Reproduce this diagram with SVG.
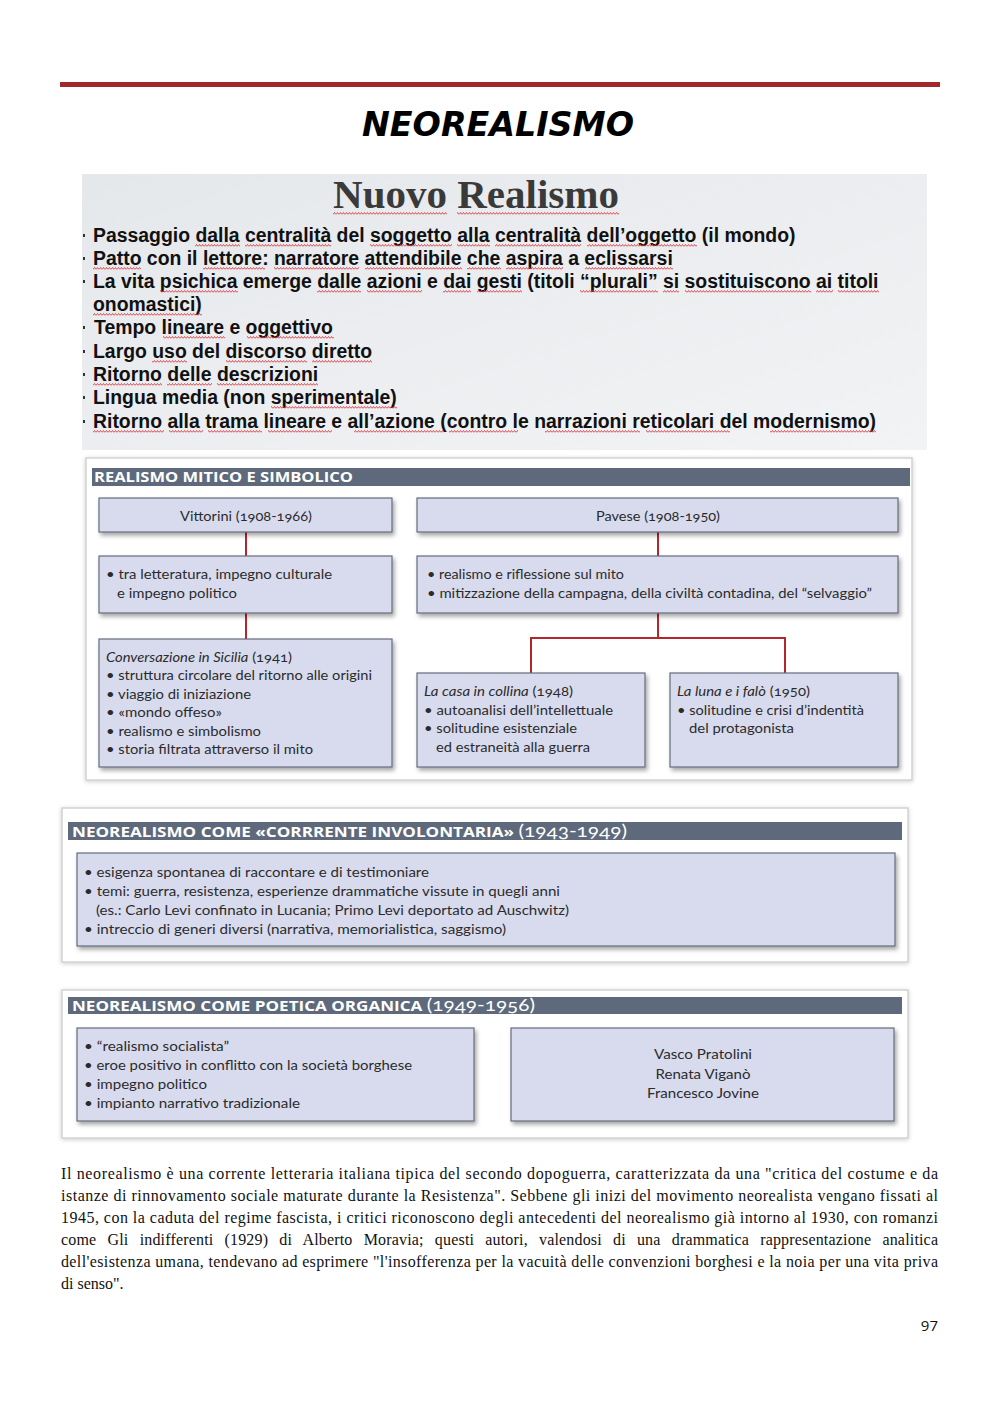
<svg xmlns="http://www.w3.org/2000/svg" width="1000" height="1413" viewBox="0 0 1000 1413">
<defs>
<style>
.t{font-family:Lato,"Open Sans",sans-serif;font-size:14px;fill:#2b2b2b;font-variant-numeric:oldstyle-nums}
.i{font-style:italic}
.box{fill:#d8dbee;stroke:#656c7c;stroke-width:1.2}
.bar{fill:#5e6a7b}
.hd{font-family:"Open Sans",Lato,sans-serif;font-weight:700;font-size:14px;fill:#fff}
.yr{font-family:Lato,sans-serif;font-weight:400;font-size:17px;font-variant-numeric:oldstyle-nums}
.nr{font-family:"Liberation Sans",Arial,sans-serif;font-weight:700;font-size:19.4px;fill:#111}
.sq rect{fill:url(#sq)}
.con{stroke:#b3262c;stroke-width:2;fill:none}
.p{font-family:"Liberation Serif","Times New Roman",serif;font-size:16px;fill:#111}
.panel{fill:#fff;stroke:#d2d2d2;stroke-width:1.5}
</style>
<pattern id="sq" patternUnits="userSpaceOnUse" width="3" height="3"><path d="M0,2.5 L1.5,0.5 L3,2.5" fill="none" stroke="#e0393e" stroke-width="0.9"/></pattern>
<filter id="sh" x="-5%" y="-10%" width="115%" height="135%"><feDropShadow dx="2" dy="3" stdDeviation="2" flood-color="#000" flood-opacity="0.35"/></filter>
<filter id="psh" x="-2%" y="-4%" width="104%" height="110%"><feDropShadow dx="0" dy="1" stdDeviation="2" flood-color="#000" flood-opacity="0.2"/></filter>
<linearGradient id="bg" x1="0" x2="1" y1="0" y2="1"><stop offset="0" stop-color="#e5e8eb"/><stop offset="1" stop-color="#f2f3f5"/></linearGradient>
<marker id="ah" markerUnits="userSpaceOnUse" markerWidth="12" markerHeight="10" refX="11" refY="5" orient="auto"><path d="M0,0 L12,5 L0,10 z" fill="#b3262c"/></marker>
</defs>

<rect x="0" y="0" width="1000" height="1413" fill="#fff"/>

<g id="header">
<rect x="60" y="82" width="880" height="5" fill="#a3282b"/>
<text x="498" y="136" text-anchor="middle" textLength="272" lengthAdjust="spacingAndGlyphs" style="font-family:'DejaVu Sans',sans-serif;font-weight:700;font-style:italic;font-size:33px;fill:#000">NEOREALISMO</text>
</g>

<g id="nuovo-realismo">
<rect x="82" y="174" width="845" height="276" fill="url(#bg)"/>
<text x="476" y="208" text-anchor="middle" style="font-family:'Liberation Serif','Times New Roman',serif;font-weight:700;font-size:41px;fill:#3a3a3a">Nuovo Realismo</text>
<g fill="#333">
<rect x="83" y="234" width="2" height="3"/><rect x="83" y="257" width="2" height="3"/><rect x="83" y="280" width="2" height="3"/>
<rect x="83" y="326" width="2" height="3"/><rect x="83" y="350" width="2" height="3"/><rect x="83" y="373" width="2" height="3"/>
<rect x="83" y="396" width="2" height="3"/><rect x="83" y="420" width="2" height="3"/>
</g>
<text class="nr" x="93" y="242">Passaggio dalla centralità del soggetto alla centralità dell’oggetto (il mondo)</text>
<text class="nr" x="93" y="265">Patto con il lettore: narratore attendibile che aspira a eclissarsi</text>
<text class="nr" x="93" y="288">La vita psichica emerge dalle azioni e dai gesti (titoli “plurali” si sostituiscono ai titoli</text>
<text class="nr" x="93" y="311">onomastici)</text>
<text class="nr" x="94" y="334">Tempo lineare e oggettivo</text>
<text class="nr" x="93" y="358">Largo uso del discorso diretto</text>
<text class="nr" x="93" y="381">Ritorno delle descrizioni</text>
<text class="nr" x="93" y="404">Lingua media (non sperimentale)</text>
<text class="nr" x="93" y="428" textLength="783">Ritorno alla trama lineare e all’azione (contro le narrazioni reticolari del modernismo)</text>
<g class="sq">
<g transform="translate(0,212)"><rect x="333" y="0" width="114" height="3"/><rect x="457" y="0" width="162" height="3"/></g>
<g transform="translate(0,244)"><rect x="195" y="0" width="45" height="3"/><rect x="245" y="0" width="86" height="3"/><rect x="370" y="0" width="82" height="3"/><rect x="457" y="0" width="33" height="3"/><rect x="495" y="0" width="86" height="3"/><rect x="587" y="0" width="110" height="3"/></g>
<g transform="translate(0,267)"><rect x="93" y="0" width="48" height="3"/><rect x="203" y="0" width="62" height="3"/><rect x="274" y="0" width="85" height="3"/><rect x="365" y="0" width="97" height="3"/><rect x="467" y="0" width="34" height="3"/><rect x="506" y="0" width="57" height="3"/><rect x="585" y="0" width="88" height="3"/></g>
<g transform="translate(0,290)"><rect x="160" y="0" width="78" height="3"/><rect x="317" y="0" width="44" height="3"/><rect x="367" y="0" width="55" height="3"/><rect x="443" y="0" width="28" height="3"/><rect x="477" y="0" width="45" height="3"/><rect x="580" y="0" width="78" height="3"/><rect x="663" y="0" width="16" height="3"/><rect x="685" y="0" width="126" height="3"/><rect x="816" y="0" width="17" height="3"/><rect x="838" y="0" width="41" height="3"/></g>
<g transform="translate(0,313)"><rect x="93" y="0" width="109" height="3"/></g>
<g transform="translate(0,336)"><rect x="163" y="0" width="62" height="3"/><rect x="247" y="0" width="87" height="3"/></g>
<g transform="translate(0,360)"><rect x="152" y="0" width="35" height="3"/><rect x="226" y="0" width="81" height="3"/><rect x="312" y="0" width="60" height="3"/></g>
<g transform="translate(0,383)"><rect x="93" y="0" width="69" height="3"/><rect x="167" y="0" width="45" height="3"/><rect x="217" y="0" width="101" height="3"/></g>
<g transform="translate(0,406)"><rect x="271" y="0" width="126" height="3"/></g>
<g transform="translate(0,430)"><rect x="93" y="0" width="71" height="3"/><rect x="169" y="0" width="34" height="3"/><rect x="208" y="0" width="54" height="3"/><rect x="268" y="0" width="64" height="3"/><rect x="354" y="0" width="90" height="3"/><rect x="449" y="0" width="69" height="3"/><rect x="545" y="0" width="95" height="3"/><rect x="646" y="0" width="84" height="3"/><rect x="770" y="0" width="106" height="3"/></g>
</g>
</g>

<g id="panel-realismo">
<rect class="panel" x="86" y="458" width="826" height="322" filter="url(#psh)"/>
<rect class="bar" x="92" y="468" width="818" height="18"/>
<text class="hd" x="94" y="482" textLength="259" lengthAdjust="spacingAndGlyphs">REALISMO MITICO E SIMBOLICO</text>
</g>

<g id="connectors">
<path class="con" d="M246,532 V556 M246,613 V639"/>
<path class="con" d="M658,532 V556 M658,613 V638 M531,638 H785 M531,637 V673 M785,637 V673"/>
<path class="con" d="M474,1075 H510" marker-end="url(#ah)"/>
</g>

<g id="vittorini">
<rect class="box" x="99" y="498" width="293" height="34" filter="url(#sh)"/>
<text class="t" x="246" y="521" text-anchor="middle" textLength="132" lengthAdjust="spacingAndGlyphs">Vittorini (1908-1966)</text>
</g>
<g id="vittorini-impegno">
<rect class="box" x="99" y="556" width="293" height="57" filter="url(#sh)"/>
<text class="t" x="106" y="579" textLength="226" lengthAdjust="spacingAndGlyphs">• tra letteratura, impegno culturale</text>
<text class="t" x="117" y="598" textLength="120" lengthAdjust="spacingAndGlyphs">e impegno politico</text>
</g>
<g id="conversazione">
<rect class="box" x="99" y="639" width="293" height="128" filter="url(#sh)"/>
<text class="t" x="106" y="662" textLength="186" lengthAdjust="spacingAndGlyphs"><tspan class="i">Conversazione in Sicilia</tspan> (1941)</text>
<text class="t" x="106" y="680" textLength="266" lengthAdjust="spacingAndGlyphs">• struttura circolare del ritorno alle origini</text>
<text class="t" x="106" y="699" textLength="145" lengthAdjust="spacingAndGlyphs">• viaggio di iniziazione</text>
<text class="t" x="106" y="717" textLength="116" lengthAdjust="spacingAndGlyphs">• «mondo offeso»</text>
<text class="t" x="106" y="736" textLength="155" lengthAdjust="spacingAndGlyphs">• realismo e simbolismo</text>
<text class="t" x="106" y="754" textLength="207" lengthAdjust="spacingAndGlyphs">• storia filtrata attraverso il mito</text>
</g>
<g id="pavese">
<rect class="box" x="417" y="498" width="481" height="34" filter="url(#sh)"/>
<text class="t" x="658" y="521" text-anchor="middle" textLength="124" lengthAdjust="spacingAndGlyphs">Pavese (1908-1950)</text>
</g>
<g id="pavese-mito">
<rect class="box" x="417" y="556" width="481" height="57" filter="url(#sh)"/>
<text class="t" x="427" y="579" textLength="197" lengthAdjust="spacingAndGlyphs">• realismo e riflessione sul mito</text>
<text class="t" x="427" y="598" textLength="445" lengthAdjust="spacingAndGlyphs">• mitizzazione della campagna, della civiltà contadina, del “selvaggio”</text>
</g>
<g id="casa-collina">
<rect class="box" x="417" y="673" width="228" height="94" filter="url(#sh)"/>
<text class="t" x="424" y="696" textLength="149" lengthAdjust="spacingAndGlyphs"><tspan class="i">La casa in collina</tspan> (1948)</text>
<text class="t" x="424" y="715" textLength="189" lengthAdjust="spacingAndGlyphs">• autoanalisi dell’intellettuale</text>
<text class="t" x="424" y="733" textLength="153" lengthAdjust="spacingAndGlyphs">• solitudine esistenziale</text>
<text class="t" x="436" y="752" textLength="154" lengthAdjust="spacingAndGlyphs">ed estraneità alla guerra</text>
</g>
<g id="luna-falo">
<rect class="box" x="670" y="673" width="228" height="94" filter="url(#sh)"/>
<text class="t" x="677" y="696" textLength="133" lengthAdjust="spacingAndGlyphs"><tspan class="i">La luna e i falò</tspan> (1950)</text>
<text class="t" x="677" y="715" textLength="187" lengthAdjust="spacingAndGlyphs">• solitudine e crisi d’indentità</text>
<text class="t" x="689" y="733" textLength="105" lengthAdjust="spacingAndGlyphs">del protagonista</text>
</g>

<g id="panel-corrente">
<rect class="panel" x="62" y="808" width="846" height="154" filter="url(#psh)"/>
<rect class="bar" x="68" y="822" width="834" height="18"/>
<text class="hd" x="72" y="837" textLength="555" lengthAdjust="spacingAndGlyphs">NEOREALISMO COME «CORRRENTE INVOLONTARIA» <tspan class="yr">(1943-1949)</tspan></text>
</g>
<g id="corrente-box">
<rect class="box" x="77" y="853" width="818" height="93" filter="url(#sh)"/>
<text class="t" x="84" y="877" textLength="345" lengthAdjust="spacingAndGlyphs">• esigenza spontanea di raccontare e di testimoniare</text>
<text class="t" x="84" y="896" textLength="476" lengthAdjust="spacingAndGlyphs">• temi: guerra, resistenza, esperienze drammatiche vissute in quegli anni</text>
<text class="t" x="96" y="915" textLength="473" lengthAdjust="spacingAndGlyphs">(es.: Carlo Levi confinato in Lucania; Primo Levi deportato ad Auschwitz)</text>
<text class="t" x="84" y="934" textLength="422" lengthAdjust="spacingAndGlyphs">• intreccio di generi diversi (narrativa, memorialistica, saggismo)</text>
</g>

<g id="panel-poetica">
<rect class="panel" x="62" y="990" width="846" height="148" filter="url(#psh)"/>
<rect class="bar" x="68" y="997" width="834" height="17"/>
<text class="hd" x="72" y="1011" textLength="463" lengthAdjust="spacingAndGlyphs">NEOREALISMO COME POETICA ORGANICA <tspan class="yr">(1949-1956)</tspan></text>
</g>
<g id="poetica-box">
<rect class="box" x="77" y="1028" width="397" height="93" filter="url(#sh)"/>
<text class="t" x="84" y="1051" textLength="145" lengthAdjust="spacingAndGlyphs">• “realismo socialista”</text>
<text class="t" x="84" y="1070" textLength="328" lengthAdjust="spacingAndGlyphs">• eroe positivo in conflitto con la società borghese</text>
<text class="t" x="84" y="1089" textLength="123" lengthAdjust="spacingAndGlyphs">• impegno politico</text>
<text class="t" x="84" y="1108" textLength="216" lengthAdjust="spacingAndGlyphs">• impianto narrativo tradizionale</text>
</g>
<g id="autori-box">
<rect class="box" x="511" y="1028" width="383" height="93" filter="url(#sh)"/>
<text class="t" x="703" y="1059" text-anchor="middle" textLength="98" lengthAdjust="spacingAndGlyphs">Vasco Pratolini</text>
<text class="t" x="703" y="1079" text-anchor="middle" textLength="95" lengthAdjust="spacingAndGlyphs">Renata Viganò</text>
<text class="t" x="703" y="1098" text-anchor="middle" textLength="112" lengthAdjust="spacingAndGlyphs">Francesco Jovine</text>
</g>

<g id="paragraph">
<text class="p" x="61" y="1179" textLength="877">Il neorealismo è una corrente letteraria italiana tipica del secondo dopoguerra, caratterizzata da una "critica del costume e da</text>
<text class="p" x="61" y="1201" textLength="877">istanze di rinnovamento sociale maturate durante la Resistenza". Sebbene gli inizi del movimento neorealista vengano fissati al</text>
<text class="p" x="61" y="1223" textLength="877">1945, con la caduta del regime fascista, i critici riconoscono degli antecedenti del neorealismo già intorno al 1930, con romanzi</text>
<text class="p" x="61" y="1245" textLength="877" style="word-spacing:7px">come Gli indifferenti (1929) di Alberto Moravia; questi autori, valendosi di una drammatica rappresentazione analitica</text>
<text class="p" x="61" y="1267" textLength="877">dell'esistenza umana, tendevano ad esprimere "l'insofferenza per la vacuità delle convenzioni borghesi e la noia per una vita priva</text>
<text class="p" x="61" y="1289">di senso".</text>
<text x="938" y="1331" text-anchor="end" style="font-family:'Open Sans',Lato,sans-serif;font-size:15px;fill:#111">97</text>
</g>
</svg>
